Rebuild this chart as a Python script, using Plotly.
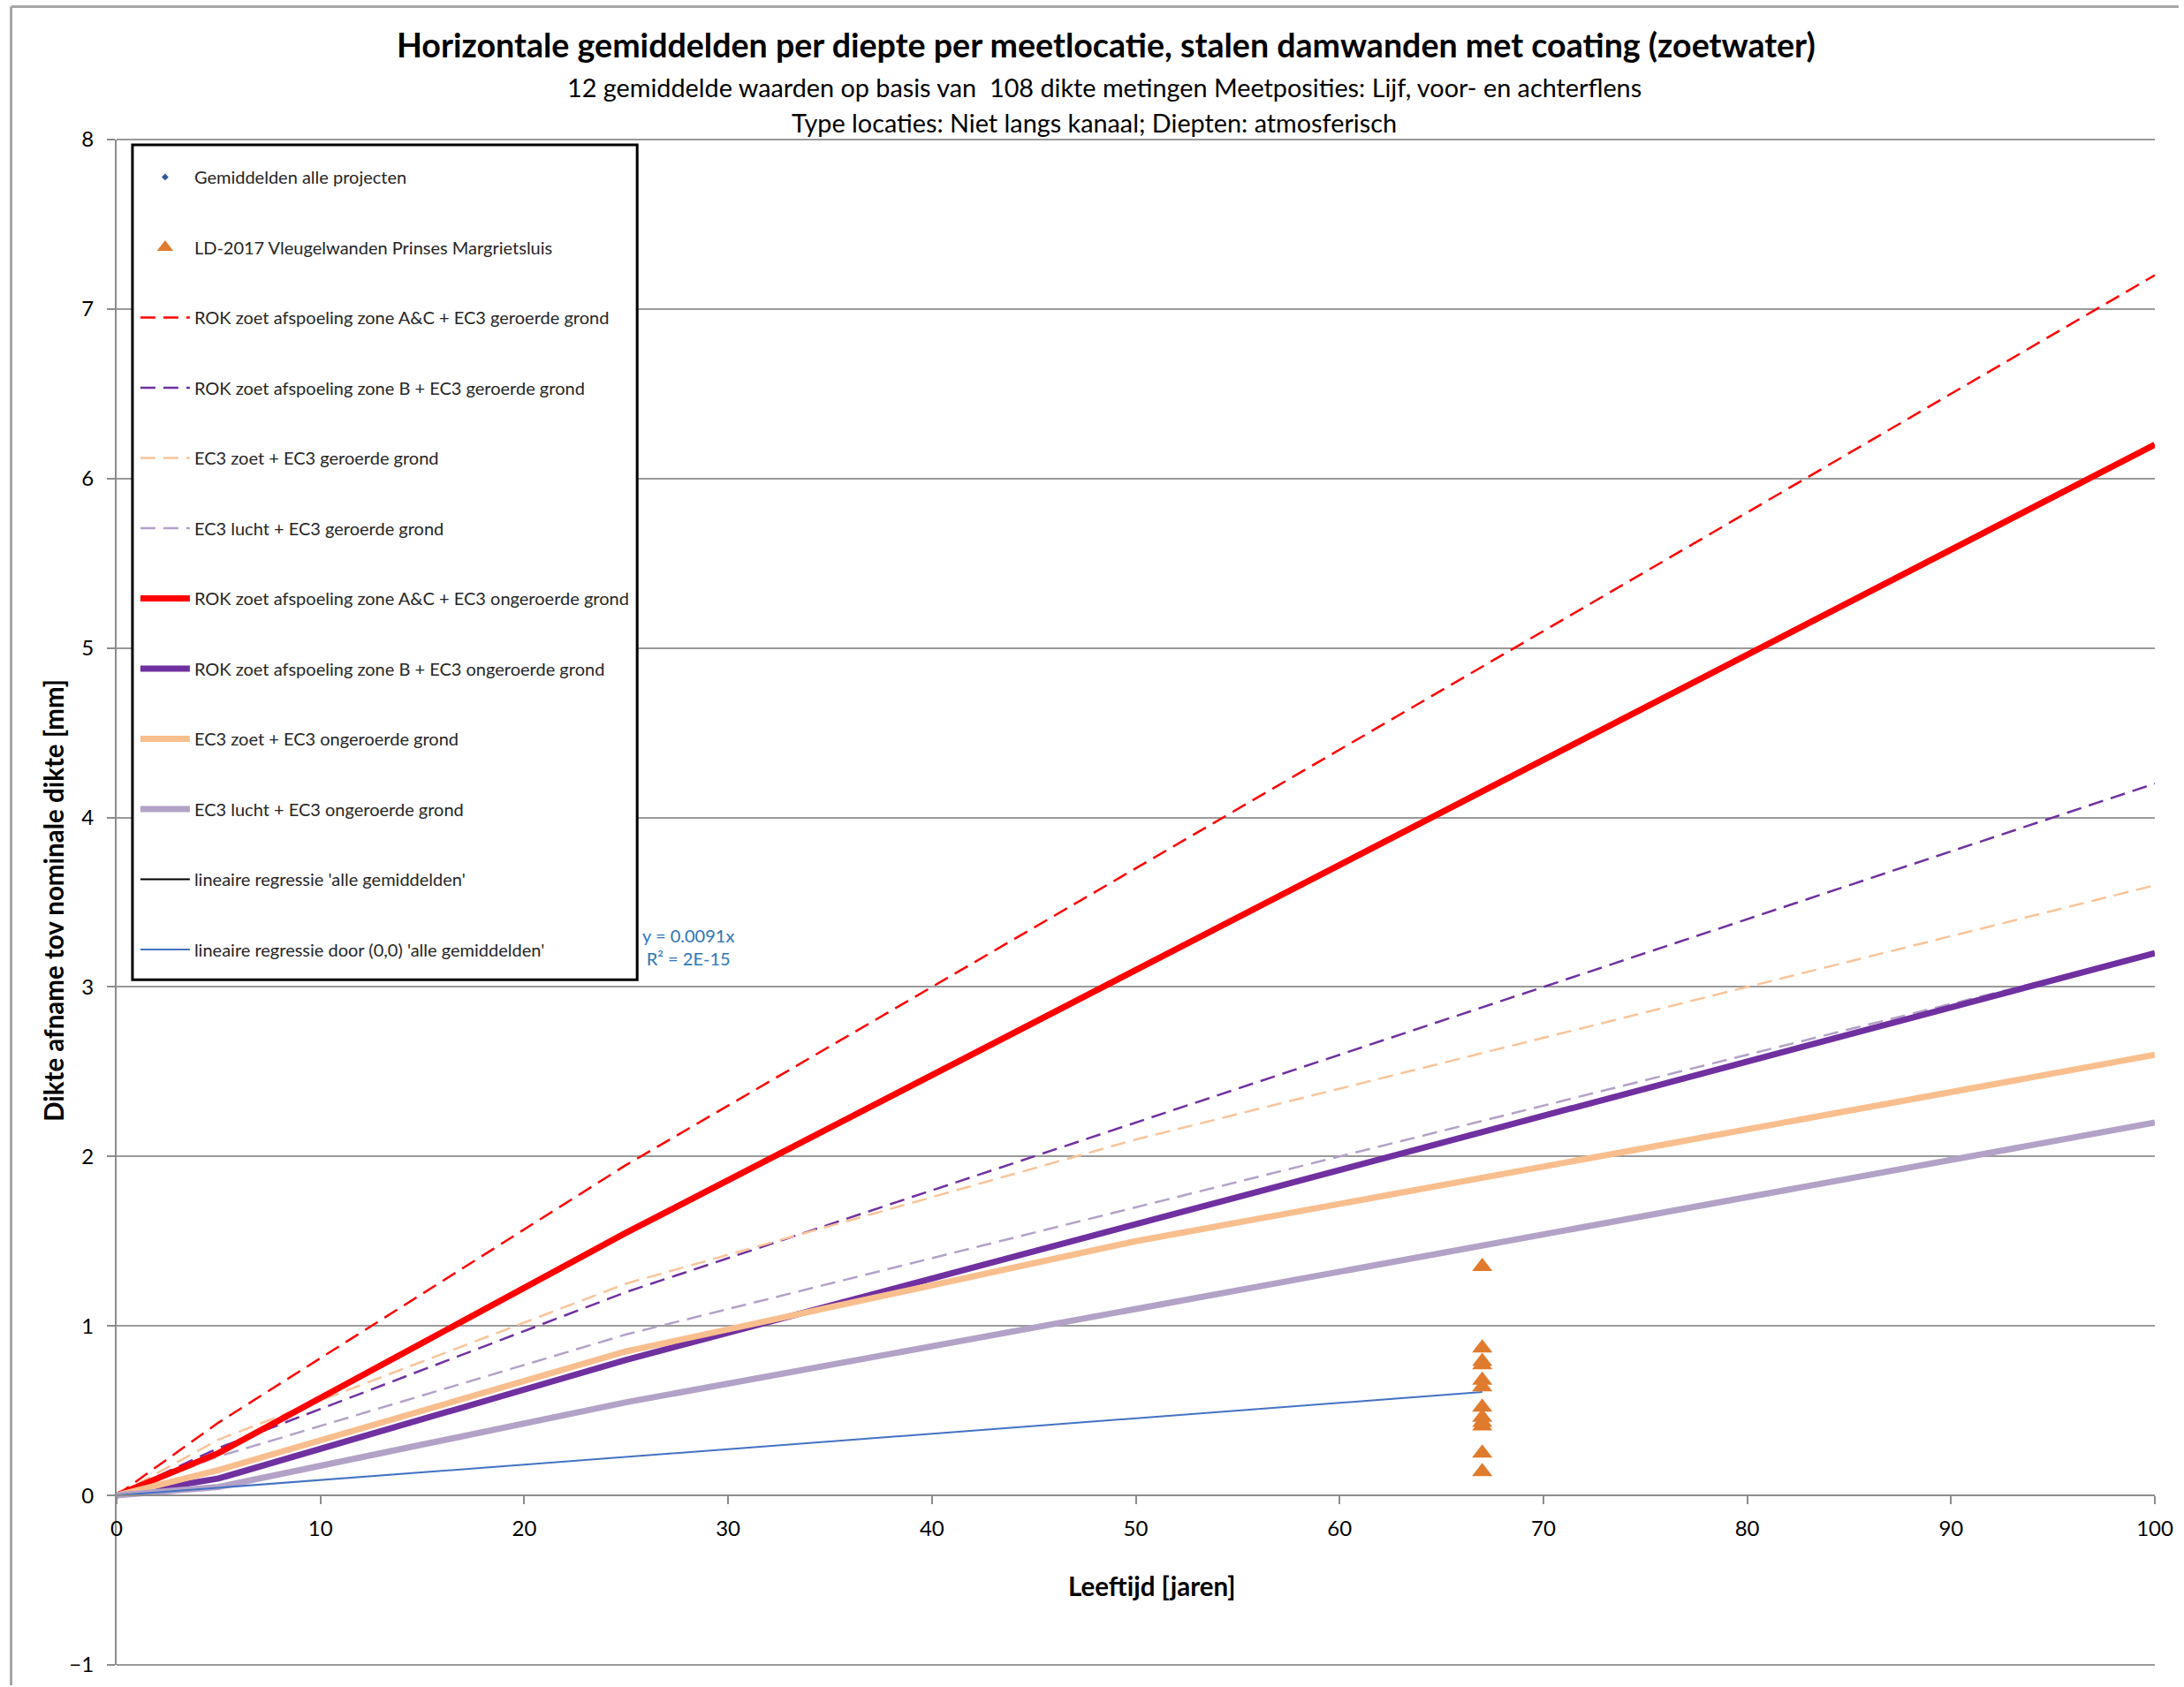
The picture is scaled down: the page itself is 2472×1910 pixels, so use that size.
import plotly.graph_objects as go

# Leeftijd (jaren) waarop de corrosiecurven gedefinieerd zijn
ages = [0, 5, 25, 50, 75, 100]

# Dikte-afname [mm] per scenario
rok_ac_geroerd = [0, 0.43, 1.95, 3.70, 5.45, 7.20]
rok_b_geroerd = [0, 0.28, 1.20, 2.20, 3.20, 4.20]
ec3_zoet_geroerd = [0, 0.33, 1.25, 2.10, 2.85, 3.60]
ec3_lucht_geroerd = [0, 0.23, 0.95, 1.70, 2.45, 3.20]
rok_ac_ongeroerd = [0, 0.25, 1.55, 3.10, 4.65, 6.20]
rok_b_ongeroerd = [0, 0.10, 0.80, 1.60, 2.40, 3.20]
ec3_zoet_ongeroerd = [0, 0.15, 0.85, 1.50, 2.05, 2.60]
ec3_lucht_ongeroerd = [0, 0.05, 0.55, 1.10, 1.65, 2.20]

# Meetresultaten LD-2017 Vleugelwanden Prinses Margrietsluis (12 gemiddelden)
meas_age = [67] * 12
meas_loss = [1.35, 0.87, 0.79, 0.77, 0.68, 0.64, 0.52, 0.46, 0.43, 0.41, 0.25, 0.14]

# Lineaire regressie door (0,0)
reg_slope = 0.0091
reg_r2_label = "2E-15"
reg_x = [0, 67]
reg_y = [reg_slope * x for x in reg_x]

title = "Horizontale gemiddelden per diepte per meetlocatie, stalen damwanden met coating (zoetwater)"
subtitle1 = "12 gemiddelde waarden op basis van  108 dikte metingen Meetposities: Lijf, voor- en achterflens"
subtitle2 = "Type locaties: Niet langs kanaal; Diepten: atmosferisch"
x_title = "Leeftijd [jaren]"
y_title = "Dikte afname tov nominale dikte [mm]"

FONT = "Lato"
W, H = 2472, 1910
L, R, T, B = 132, 22, 158, 18
PW, PH = W - L - R, H - T - B
GRID = "#9A9A9A"


def px(xp):
    return (xp - L) / PW


def py(yp):
    return (H - B - yp) / PH


fig = go.Figure()

dash = "17px,9px"
lines = [
    ("ROK zoet afspoeling zone A&C + EC3 geroerde grond", rok_ac_geroerd, "#FF0000", 2.5, dash),
    ("ROK zoet afspoeling zone B + EC3 geroerde grond", rok_b_geroerd, "#7030A0", 2.5, dash),
    ("EC3 zoet + EC3 geroerde grond", ec3_zoet_geroerd, "#F9C49A", 2.5, dash),
    ("EC3 lucht + EC3 geroerde grond", ec3_lucht_geroerd, "#B3A2C7", 2.5, dash),
    ("ROK zoet afspoeling zone A&C + EC3 ongeroerde grond", rok_ac_ongeroerd, "#FF0000", 7, "solid"),
    ("ROK zoet afspoeling zone B + EC3 ongeroerde grond", rok_b_ongeroerd, "#7030A0", 7, "solid"),
    ("EC3 zoet + EC3 ongeroerde grond", ec3_zoet_ongeroerd, "#F9BE8E", 7, "solid"),
    ("EC3 lucht + EC3 ongeroerde grond", ec3_lucht_ongeroerd, "#B3A2C7", 7, "solid"),
]
for i, (name, ys, col, w, d) in enumerate(lines):
    fig.add_trace(go.Scatter(
        x=ages, y=ys, mode="lines", name=name, legendgroup=f"l{i}", legendrank=3 + i,
        line=dict(color=col, width=w, dash=d)))

# Regressie 'alle gemiddelden' (geen zichtbare lijn)
fig.add_trace(go.Scatter(
    x=[None], y=[None], mode="lines", name="lineaire regressie 'alle gemiddelden'",
    line=dict(color="#000000", width=2), legendgroup="r1", legendrank=11))
fig.add_trace(go.Scatter(
    x=reg_x, y=reg_y, mode="lines", name="lineaire regressie door (0,0) 'alle gemiddelden'",
    line=dict(color="#4472C4", width=2), legendgroup="r2", legendrank=12))

# Metingen bovenop de lijnen
fig.add_trace(go.Scatter(
    x=meas_age, y=meas_loss, mode="markers", name="Gemiddelden alle projecten",
    marker=dict(symbol="diamond", size=6, color="#2F5597"), legendgroup="g1", legendrank=1))
fig.add_trace(go.Scatter(
    x=meas_age, y=meas_loss, mode="markers", name="LD-2017 Vleugelwanden Prinses Margrietsluis",
    marker=dict(symbol="triangle-up", size=20, color="#E07B2E"), legendgroup="g2", legendrank=2))

annotations = [
    dict(text="<b>%s</b>" % title, x=px(1257), y=py(50), font=dict(size=37.6, color="#000000")),
    dict(text=subtitle1, x=px(1255), y=py(99), font=dict(size=28.8, color="#000000")),
    dict(text=subtitle2, x=px(1244), y=py(139), font=dict(size=28.8, color="#000000")),
    dict(text="<b>%s</b>" % x_title, x=px(1310), y=py(1802), font=dict(size=29.5, color="#000000")),
    dict(text="<b>%s</b>" % y_title, x=px(60), y=py(1023), textangle=-90,
         font=dict(size=29.5, color="#000000")),
    dict(text="y = %sx<br>R² = %s" % (reg_slope, reg_r2_label), x=px(782), y=py(1076),
         font=dict(size=20, color="#2E75B6"), align="center"),
]
for a in annotations:
    a.update(xref="paper", yref="paper", showarrow=False, xanchor="center", yanchor="middle")

shapes = [
    # rand van het grafiekgebied
    dict(type="line", xref="paper", yref="paper", x0=px(12), x1=px(12), y0=py(7), y1=py(H + 5),
         line=dict(color="#A6A6A6", width=3)),
    dict(type="line", xref="paper", yref="paper", x0=px(12), x1=px(W + 5), y0=py(7), y1=py(7),
         line=dict(color="#A6A6A6", width=3)),
    # rasterlijnen op de randen van het y-bereik
    dict(type="line", xref="paper", yref="paper", x0=0, x1=1, y0=1, y1=1, layer="below",
         line=dict(color=GRID, width=2)),
    dict(type="line", xref="paper", yref="paper", x0=0, x1=1, y0=0, y1=0, layer="below",
         line=dict(color=GRID, width=2)),
    # kader van de legenda
    dict(type="rect", xref="paper", yref="paper", x0=px(150), x1=px(724), y0=py(1113), y1=py(164),
         layer="above", fillcolor="white", line=dict(color="#000000", width=3)),
]

fig.update_layout(
    width=W, height=H,
    margin=dict(l=L, r=R, t=T, b=B),
    paper_bgcolor="white", plot_bgcolor="white",
    font=dict(family=FONT, size=20, color="#262626"),
    annotations=annotations, shapes=shapes,
    legend=dict(
        x=px(154), y=py(181), xanchor="left", yanchor="top",
        bgcolor="rgba(0,0,0,0)", borderwidth=0,
        font=dict(family=FONT, size=20, color="#262626"),
        tracegroupgap=50.5, itemwidth=56, traceorder="grouped",
    ),
    xaxis=dict(
        range=[0, 100], dtick=10, tick0=0, showgrid=False, zeroline=False,
        anchor="free", position=1 / 9, showline=True, linecolor="#8C8C8C", linewidth=2,
        ticks="outside", ticklen=9, tickwidth=2, tickcolor="#8C8C8C",
        tickfont=dict(size=24, color="#000000"), ticklabelstandoff=7,
    ),
    yaxis=dict(
        range=[-1, 8], dtick=1, tick0=0, showgrid=True, gridcolor=GRID, gridwidth=2,
        zeroline=False, showline=True, linecolor="#8C8C8C", linewidth=2,
        ticks="outside", ticklen=9, tickwidth=2, tickcolor="#8C8C8C",
        tickfont=dict(size=24, color="#000000"), ticklabelstandoff=10,
    ),
)

fig.write_html("out.html")
